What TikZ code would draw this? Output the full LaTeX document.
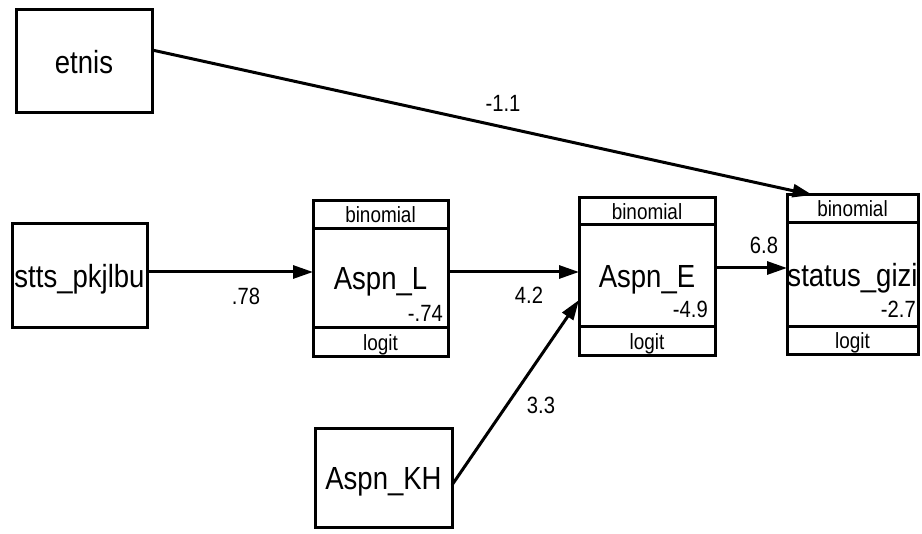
\documentclass[tikz,border=0pt]{standalone}
\usepackage{fontspec}
\setmainfont{Liberation Sans}[FakeStretch=0.86]
\usetikzlibrary{positioning, calc, arrows.meta}

\tikzset{
  var/.style={draw, line width=3pt, rectangle, outer sep=0pt, inner sep=0pt,
    text depth=0pt, font=\fontsize{32}{36}\selectfont},
  strip/.style={draw, line width=3pt, rectangle, outer sep=0pt, inner sep=0pt,
    text depth=0pt, font=\fontsize{22}{24}\selectfont},
  coef/.style={inner sep=0pt, text depth=0pt, font=\fontsize{23.5}{26}\selectfont},
  link/.style={line width=3pt, -{Triangle[length=20pt, width=13pt]}},
}

\begin{document}
\begin{tikzpicture}[x=1pt, y=-1pt]
        \useasboundingbox (0,0) rectangle (922,534);

        % observed variables
        \node[var, minimum width=136pt, minimum height=103pt] (etnis) at (84,61.5) {etnis};
        \node[var, minimum width=135pt, minimum height=104pt] (stts) at (79.5,276) {stts\_pkjlbu};
        \node[var, minimum width=137pt, minimum height=99pt] (kh) at (383.5,478.5) {Aspn\_KH};

        % binomial / logit responses
        \node[var, minimum width=135pt, minimum height=99pt] (aspnl) at (380.5,278.5) {Aspn\_L};
        \node[strip, minimum width=135pt, minimum height=28pt, above=0pt of aspnl] (aspnl-top) {binomial};
        \node[strip, minimum width=135pt, minimum height=29pt, below=0pt of aspnl] (aspnl-bot) {logit};
        \node[coef, anchor=base east] (aspnl-cons) at ($ (aspnl.south east) + (-5,-6) $) {-.74};

        \node[var, minimum width=136pt, minimum height=102pt] (aspne) at (647,276) {Aspn\_E};
        \node[strip, minimum width=136pt, minimum height=27pt, above=0pt of aspne] (aspne-top) {binomial};
        \node[strip, minimum width=136pt, minimum height=29pt, below=0pt of aspne] (aspne-bot) {logit};
        \node[coef, anchor=base east] (aspne-cons) at ($ (aspne.south east) + (-7,-9) $) {-4.9};

        \node[var, minimum width=131pt, minimum height=104pt] (status) at (852.5,275) {status\_gizi};
        \node[strip, minimum width=131pt, minimum height=28pt, above=0pt of status] (status-top) {binomial};
        \node[strip, minimum width=131pt, minimum height=28pt, below=0pt of status] (status-bot) {logit};
        \node[coef, anchor=base east] (status-cons) at ($ (status.south east) + (-2,-9) $) {-2.7};

        % paths
        \draw[link] ($ (stts.east) + (0,-4) $) -- ($ (stts.east -| aspnl.west) + (0,-4) $);
        \draw[link] ($ (aspnl.east) + (0,-6.5) $) -- ($ (aspnl.east -| aspne.west) + (0,-6.5) $);
        \draw[link] ($ (aspne.east) + (0,-8) $) -- ($ (aspne.east -| status.west) + (0,-8) $);
        \draw[link] ($ (kh.east) + (0,6.5) $) -- ($ (aspne.west) + (0,24) $);
        \draw[link] ($ (etnis.east) + (0,-11.5) $) -- ($ (status-top.north) + (-40,0) $);

        % coefficients
        \node[coef] (c-etnis) at (503,103.5) {-1.1};
        \node[coef] (c-stts) at (246,296.5) {.78};
        \node[coef] (c-aspnl) at (529,295) {4.2};
        \node[coef] (c-kh) at (541,405) {3.3};
        \node[coef] (c-aspne) at (764,245) {6.8};
\end{tikzpicture}
\end{document}
